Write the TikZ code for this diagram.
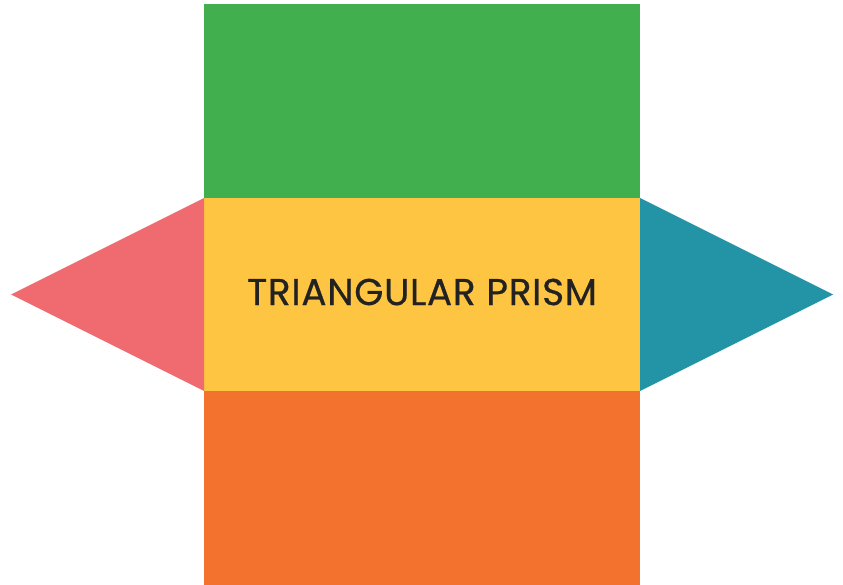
\documentclass[tikz,border=0pt]{standalone}
\usepackage{fontspec}
\setmainfont{Poppins}
\newfontfamily\labelfont{Poppins}[FakeBold=0.6,LetterSpace=2]
\definecolor{cgreen}{RGB}{66,175,78}
\definecolor{cyellow}{RGB}{254,197,66}
\definecolor{corange}{RGB}{243,115,46}
\definecolor{cpink}{RGB}{240,107,112}
\definecolor{cteal}{RGB}{35,147,166}
\definecolor{ctext}{RGB}{34,34,34}
\begin{document}
\begin{tikzpicture}[x=1pt,y=-1pt]
\useasboundingbox (0,0) rectangle (843,585);
\fill[cgreen] (204,4) rectangle (640,198.5);
\fill[cyellow] (204,198) rectangle (640,391.5);
\fill[corange] (204,391) rectangle (640,585);
\fill[cpink] (204,198) -- (11,294.5) -- (204,391) -- cycle;
\fill[cteal] (640,198) -- (833,294.5) -- (640,391) -- cycle;
\node[text=ctext, inner sep=0pt] (label) at (422,292) {\resizebox{350pt}{!}{\labelfont\fontsize{38}{44}\selectfont TRIANGULAR PRISM}};
\end{tikzpicture}
\end{document}
